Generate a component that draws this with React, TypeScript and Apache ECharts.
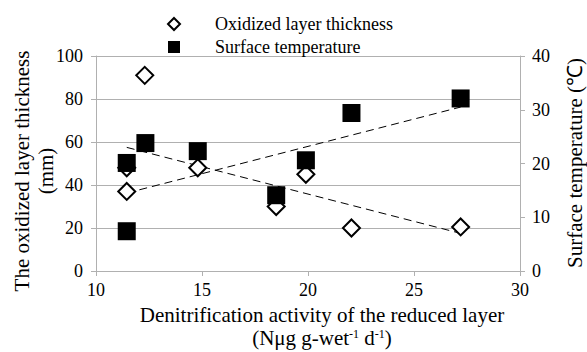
import React, { useEffect, useRef } from "react";
import * as echarts from "echarts";

const thicknessX = [11.45, 11.45, 12.3, 14.8, 18.5, 19.9, 22.05, 27.2];
const thickness = [37, 48, 91, 48, 30, 45, 20, 20.5];
const temperatureX = [11.45, 11.45, 12.33, 14.8, 18.5, 19.9, 22.05, 27.2];
const temperature = [7.4, 20.1, 23.8, 22.3, 14.1, 20.6, 29.4, 32.1];
const thicknessTrendX = [11.45, 27.2];
const thicknessTrend = [57.5, 17.5];
const temperatureTrendX = [11.45, 27.2];
const temperatureTrend = [14.5, 30.5];
const seriesNames = ["Oxidized layer thickness", "Surface temperature"];

const FONT = "Liberation Serif";

export default function App() {
  const ref = useRef<HTMLDivElement>(null);
  useEffect(() => {
    if (!ref.current) return;
    document.body.style.margin = "0";
    const chart = echarts.init(ref.current, null, { renderer: "svg" });
    const zip = (xs: number[], ys: number[]) => xs.map((x, i) => [x, ys[i]]);
    const gray = "#b0b0b0";
    chart.setOption({
      animation: false,
      textStyle: { fontFamily: FONT, color: "#000" },
      grid: { left: 96, right: 67, top: 56, bottom: 81, containLabel: false },
      legend: {
        orient: "vertical",
        left: 162,
        top: 10,
        itemWidth: 12,
        itemHeight: 12,
        itemGap: 5,
        data: seriesNames,
        textStyle: { fontFamily: FONT, fontSize: 18, color: "#000", lineHeight: 18, padding: [0, 0, 0, 30] },
      },
      xAxis: {
        type: "value",
        min: 10,
        max: 30,
        interval: 5,
        axisLine: { show: true, lineStyle: { color: gray } },
        axisTick: { show: true, length: 5, lineStyle: { color: gray } },
        axisLabel: { fontFamily: FONT, fontSize: 18, color: "#000", margin: 10 },
        splitLine: { show: false },
      },
      yAxis: [
        {
          type: "value",
          min: 0,
          max: 100,
          interval: 20,
          axisLine: { show: true, lineStyle: { color: gray } },
          axisTick: { show: true, length: 5, lineStyle: { color: gray } },
          axisLabel: { fontFamily: FONT, fontSize: 18, color: "#000", margin: 13 },
          splitLine: { show: true, lineStyle: { color: gray, width: 1 } },
        },
        {
          type: "value",
          min: 0,
          max: 40,
          interval: 10,
          position: "right",
          axisLine: { show: true, lineStyle: { color: gray } },
          axisTick: { show: true, length: 5, lineStyle: { color: gray } },
          axisLabel: { fontFamily: FONT, fontSize: 18, color: "#000", margin: 12 },
          splitLine: { show: false },
        },
      ],
      series: [
        {
          name: "thickness trend",
          type: "line",
          yAxisIndex: 0,
          data: zip(thicknessTrendX, thicknessTrend),
          symbol: "none",
          lineStyle: { color: "#000", width: 1, type: [8, 5] },
          z: 1,
          silent: true,
        },
        {
          name: "temperature trend",
          type: "line",
          yAxisIndex: 1,
          data: zip(temperatureTrendX, temperatureTrend),
          symbol: "none",
          lineStyle: { color: "#000", width: 1, type: [8, 5] },
          z: 1,
          silent: true,
        },
        {
          name: seriesNames[0],
          type: "scatter",
          yAxisIndex: 0,
          symbol: "diamond",
          symbolSize: 17,
          data: zip(thicknessX, thickness),
          itemStyle: { color: "#fff", borderColor: "#000", borderWidth: 2, opacity: 1 },
          z: 3,
        },
        {
          name: seriesNames[1],
          type: "scatter",
          yAxisIndex: 1,
          symbol: "rect",
          symbolSize: 18,
          data: zip(temperatureX, temperature),
          itemStyle: { color: "#000", opacity: 1 },
          z: 4,
        },
      ],
      graphic: [
        {
          type: "text",
          x: 322,
          y: 315,
          style: {
            text: "Denitrification activity of the reduced layer",
            fontFamily: FONT,
            fontSize: 21,
            fill: "#000",
            textAlign: "center",
            textVerticalAlign: "middle",
          },
        },
        {
          type: "text",
          x: 322,
          y: 338,
          style: {
            text: "(Nμg g-wet{sup|-1} d{sup|-1})",
            fontFamily: FONT,
            fontSize: 21,
            fill: "#000",
            textAlign: "center",
            textVerticalAlign: "middle",
            rich: {
              sup: { fontFamily: FONT, fontSize: 12, fill: "#000", verticalAlign: "top", padding: [0, 0, 8, 0] },
            },
          },
        },
        {
          type: "text",
          x: 34,
          y: 171,
          rotation: Math.PI / 2,
          style: {
            text: "The oxidized layer thickness\n(mm)",
            fontFamily: FONT,
            fontSize: 21,
            lineHeight: 24,
            fill: "#000",
            textAlign: "center",
            textVerticalAlign: "middle",
          },
        },
        {
          type: "text",
          x: 575,
          y: 163,
          rotation: Math.PI / 2,
          style: {
            text: "Surface temperature (℃)",
            fontFamily: FONT,
            fontSize: 21,
            fill: "#000",
            textAlign: "center",
            textVerticalAlign: "middle",
          },
        },
      ],
    });
    return () => chart.dispose();
  }, []);
  return <div ref={ref} style={{ position: "absolute", left: 0, top: 0, width: 587, height: 352 }} />;
}
